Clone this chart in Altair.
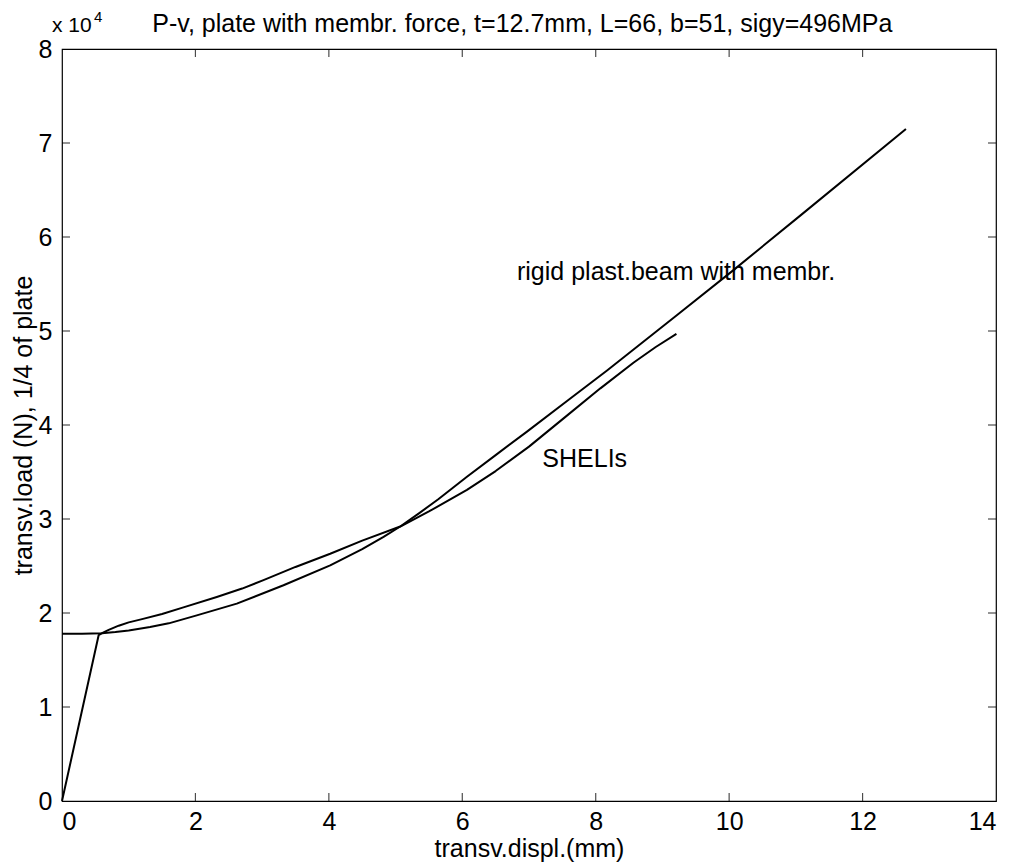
import altair as alt
import pandas as pd

# SHELIs (FE result)
shel_x = [0, 0.55, 0.6, 0.7, 0.85, 1.0, 1.2, 1.5, 1.82, 2.32, 2.7, 3.02, 3.5, 4.02, 4.5, 5.07, 5.5, 6.07, 6.5, 7.0, 7.5, 8.07, 8.57, 8.9, 9.21]
shel_y = [0, 1.765, 1.785, 1.82, 1.865, 1.90, 1.935, 1.99, 2.06, 2.17, 2.26, 2.35, 2.49, 2.63, 2.77, 2.92, 3.08, 3.31, 3.51, 3.77, 4.06, 4.39, 4.665, 4.83, 4.97]

# rigid plastic beam with membrane
rig_x = [0, 0.3, 0.6, 0.8, 1.0, 1.32, 1.6, 2.02, 2.62, 3.32, 4.02, 4.5, 4.82, 5.07, 5.35, 5.64, 6.07, 6.5, 6.97, 7.57, 8.17, 9.22, 10.06, 11.07, 12.65]
rig_y = [1.78, 1.78, 1.785, 1.797, 1.815, 1.85, 1.89, 1.975, 2.10, 2.295, 2.507, 2.68, 2.81, 2.92, 3.06, 3.21, 3.45, 3.68, 3.93, 4.255, 4.58, 5.17, 5.645, 6.23, 7.15]

x_ticks = [0, 2, 4, 6, 8, 10, 12, 14]
y_ticks = [0, 1, 2, 3, 4, 5, 6, 7, 8]

ann_text = ["rigid plast.beam with membr.", "SHELIs"]
ann_x = [6.82, 7.2]
ann_y = [5.54, 3.55]

title_text = "P-v, plate with membr. force, t=12.7mm, L=66, b=51, sigy=496MPa"

FONT = "Liberation Sans"
FS = 25
W, H = 934, 752

curves = pd.DataFrame({
    "x": shel_x + rig_x,
    "y": shel_y + rig_y,
    "series": ["SHELIs"] * len(shel_x) + ["rigid"] * len(rig_x),
    "order": list(range(len(shel_x))) + list(range(len(rig_x))),
})

xs = alt.Scale(domain=[0, 14], nice=False, zero=False)
ys = alt.Scale(domain=[0, 8], nice=False, zero=False)
xaxis = alt.Axis(values=x_ticks, title="transv.displ.(mm)", format="d")
yaxis = alt.Axis(values=y_ticks, title="transv.load (N), 1/4 of plate", format="d")
X = lambda f="x": alt.X(f + ":Q", scale=xs, axis=xaxis)
Y = lambda f="y": alt.Y(f + ":Q", scale=ys, axis=yaxis)

lines = alt.Chart(curves).mark_line(color="black", strokeWidth=2, strokeJoin="round").encode(
    x=X(), y=Y(), detail="series:N", order="order:Q"
)

def tick_layer(xv, yv, orient):
    df = pd.DataFrame({"x": xv, "y": yv})
    return alt.Chart(df).mark_tick(orient=orient, size=16, thickness=1.2, color="black", clip=True).encode(
        x=X(), y=Y()
    )

inner_x = x_ticks[1:-1]
inner_y = y_ticks[1:-1]
t_bottom = tick_layer(inner_x, [0] * len(inner_x), "vertical")
t_top = tick_layer(inner_x, [8] * len(inner_x), "vertical")
t_left = tick_layer([0] * len(inner_y), inner_y, "horizontal")
t_right = tick_layer([14] * len(inner_y), inner_y, "horizontal")

ann = alt.Chart(pd.DataFrame({"x": ann_x, "y": ann_y, "t": ann_text})).mark_text(
    font=FONT, fontSize=FS, align="left", baseline="alphabetic", color="black"
).encode(x=X(), y=Y(), text="t:N")

title = alt.Chart(pd.DataFrame({"x": [6.9], "y": [8], "t": [title_text]})).mark_text(
    font=FONT, fontSize=FS, align="center", baseline="alphabetic", color="black", dy=-17
).encode(x=X(), y=Y(), text="t:N")

exp_base = alt.Chart(pd.DataFrame({"x": [0], "y": [8], "t": ["x 10"]})).mark_text(
    font=FONT, fontSize=21, align="left", baseline="alphabetic", color="black", dx=-10, dy=-17
).encode(x=X(), y=Y(), text="t:N")
exp_sup = alt.Chart(pd.DataFrame({"x": [0], "y": [8], "t": ["4"]})).mark_text(
    font=FONT, fontSize=15, align="left", baseline="alphabetic", color="black", dx=32, dy=-27
).encode(x=X(), y=Y(), text="t:N")

chart = alt.layer(lines, t_bottom, t_top, t_left, t_right, ann, title, exp_base, exp_sup).properties(
    width=W,
    height=H,
    padding={"left": 54, "top": 41, "right": 10, "bottom": 66},
    autosize=alt.AutoSizeParams(type="none"),
    background="white",
).configure_view(
    stroke="black", strokeWidth=1.2
).configure_axis(
    domain=False, ticks=False, grid=False,
    labelFont=FONT, labelFontSize=FS, labelColor="black",
    titleFont=FONT, titleFontSize=FS, titleFontWeight="normal", titleColor="black",
).configure_axisX(labelPadding=8, titlePadding=2).configure_axisY(labelPadding=10, titlePadding=2)

chart.save("out.html", embed_options={"renderer": "svg", "actions": False})
